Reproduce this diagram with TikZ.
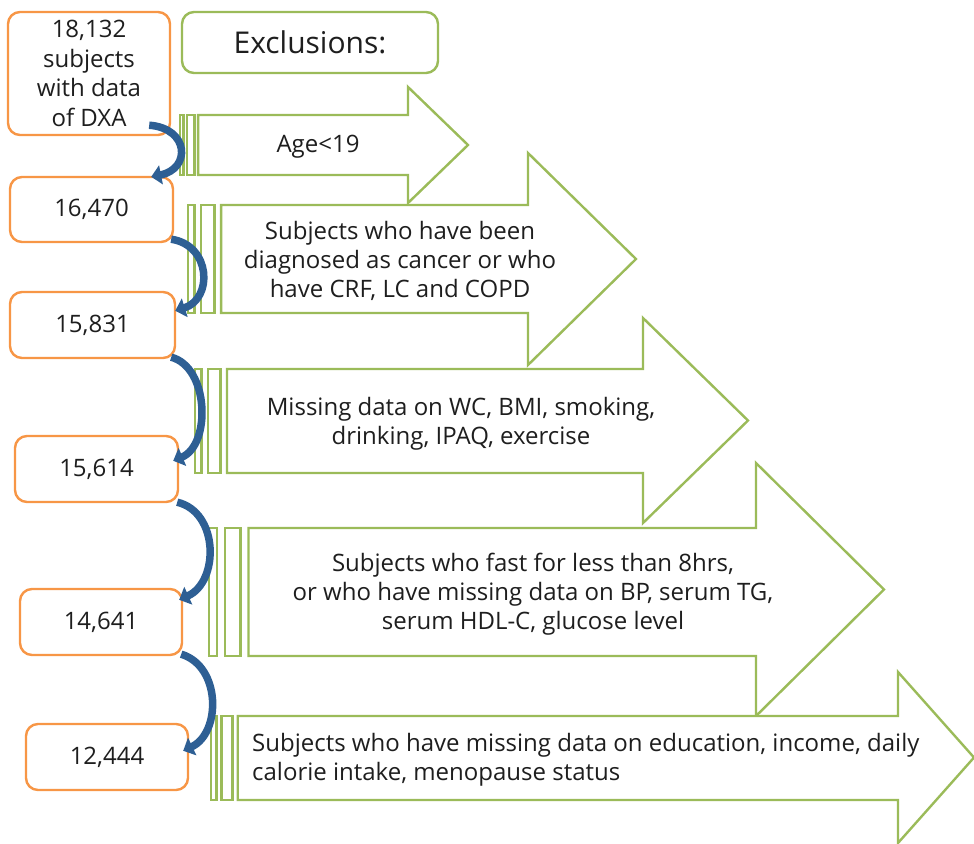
\documentclass[tikz,border=0pt]{standalone}
\usepackage{fontspec}
\setmainfont{Open Sans}
\usetikzlibrary{calc,arrows.meta}
\definecolor{grn}{HTML}{9BBB59}
\definecolor{org}{HTML}{F79646}
\definecolor{blu}{HTML}{2E5F94}
\definecolor{txt}{HTML}{1E1E1E}
\newcommand\stripearrow[7]{%
  \pgfmathsetmacro\ssz{#5-#4}%
  \pgfmathsetmacro\xa{#1+\ssz/32}%
  \pgfmathsetmacro\xb{#1+\ssz/16}%
  \pgfmathsetmacro\xc{#1+\ssz/8}%
  \pgfmathsetmacro\xd{#1+5*\ssz/32}%
  \pgfmathsetmacro\ym{(#4+#5)/2}%
  \draw[garrow] (#1,#6) rectangle (\xa,#7);
  \draw[garrow] (\xb,#6) rectangle (\xc,#7);
  \draw[garrow] (\xd,#6) -- (#2,#6) -- (#2,#4) -- (#3,\ym) -- (#2,#5) -- (#2,#7) -- (\xd,#7) -- cycle;
}
\begin{document}
\begin{tikzpicture}[x=1pt,y=-1pt,
  numbox/.style={draw=org, line width=2.4pt, rounded corners=12pt, fill=white, align=center,
    inner sep=0pt, font=\fontsize{24}{29.5}\selectfont, text=txt},
  exbox/.style={draw=grn, line width=2.4pt, rounded corners=12pt, fill=white,
    inner sep=0pt, font=\fontsize{30}{34}\selectfont, text=txt},
  garrow/.style={draw=grn, line width=2.4pt, fill=white, line join=miter},
  lbl/.style={align=center, font=\fontsize{24}{29}\selectfont, text=txt, inner sep=0pt},
  flow/.style={draw=blu, line width=7.5pt, -{Triangle[width=19pt,length=10pt]}},
]
\useasboundingbox (0,0) rectangle (974,843);

% exclusion arrows
\stripearrow{180}{408}{468}{87}{203}{115}{175}
\stripearrow{188}{528}{636}{153}{365}{205}{313}
\stripearrow{195}{643}{748}{318}{523}{369}{473}
\stripearrow{209}{756}{884}{463}{716}{528}{656}
\stripearrow{211}{898}{974}{672}{843}{716}{800}

% boxes
\node[numbox, minimum width=162pt, minimum height=123pt] (b1) at (89,73.5) {18,132\\subjects\\with data\\of DXA};
\node[exbox, minimum width=256pt, minimum height=61pt] (ex) at (310,42.5) {Exclusions:};
\node[numbox, minimum width=163pt, minimum height=65pt] (b2) at (91.5,209.5) {16,470};
\node[numbox, minimum width=165pt, minimum height=66pt] (b3) at (92.5,325) {15,831};
\node[numbox, minimum width=163pt, minimum height=66pt] (b4) at (96.5,469) {15,614};
\node[numbox, minimum width=162pt, minimum height=66pt] (b5) at (101,622) {14,641};
\node[numbox, minimum width=162pt, minimum height=66pt] (b6) at (107,757) {12,444};

% labels
\node[lbl] (t1) at (318,147) {Age<19};
\node[lbl] (t2) at (400,261) {Subjects who have been\\diagnosed as cancer or who\\have CRF, LC and COPD};
\node[lbl] (t3) at (461,424) {Missing data on WC, BMI, smoking,\\drinking, IPAQ, exercise};
\node[lbl] (t4) at (533,594) {Subjects who fast for less than 8hrs,\\or who have missing data on BP, serum TG,\\serum HDL-C, glucose level};
\node[lbl, anchor=west, align=left] (t5) at (252,760) {Subjects who have missing data on education, income, daily\\calorie intake, menopause status};

% flow arrows
\draw[flow] ($(b1.south east)+(-22,-11)$) .. controls +(40,3) and +(40,-8) .. ($(b2.north east)+(-23,1)$);
\draw[flow] ($(b2.south east)+(-3,-4)$) .. controls +(40,6) and +(38,-12) .. ($(b3.north east)+(-1,20)$);
\draw[flow] ($(b3.south east)+(-5,-2)$) .. controls +(38,10) and +(38,-16) .. ($(b4.north east)+(-6,26)$);
\draw[flow] ($(b4.south east)+(-2,-1)$) .. controls +(42,10) and +(40,-18) .. ($(b5.north east)+(-4,12)$);
\draw[flow] ($(b5.south east)+(-2,-2)$) .. controls +(40,12) and +(38,-18) .. ($(b6.north east)+(-6,28)$);
\end{tikzpicture}
\end{document}
